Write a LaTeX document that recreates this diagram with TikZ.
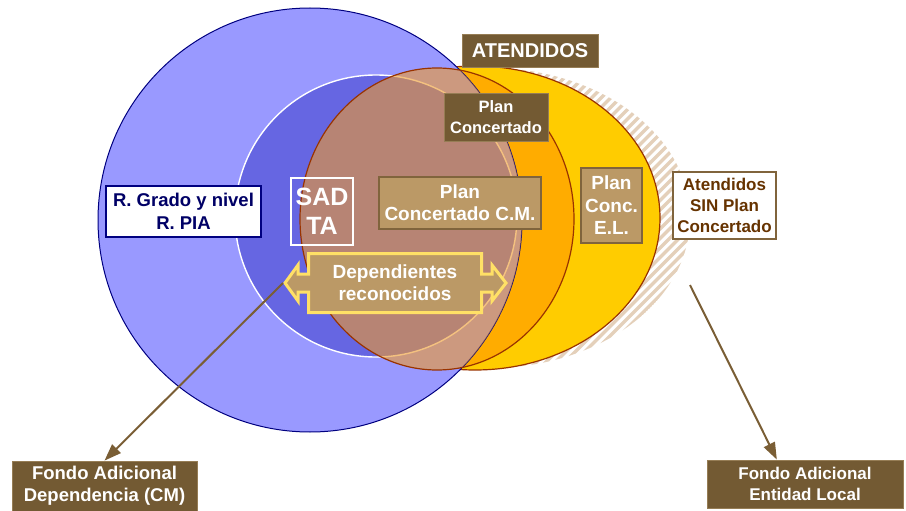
\documentclass[tikz,border=0pt]{standalone}
\usepackage{fontspec}
\setmainfont{Liberation Sans}
\usetikzlibrary{arrows.meta,calc}

\definecolor{blueA}{RGB}{153,153,255}
\definecolor{blueB}{RGB}{102,102,226}
\definecolor{navy}{RGB}{0,0,128}
\definecolor{yel}{RGB}{255,204,0}
\definecolor{orng}{RGB}{255,172,0}
\definecolor{rim}{RGB}{153,51,0}
\definecolor{tint}{RGB}{238,153,43}
\definecolor{hatchc}{RGB}{228,208,186}
\definecolor{dbrown}{RGB}{115,90,51}
\definecolor{dbrownrim}{RGB}{150,125,85}
\definecolor{tanc}{RGB}{187,153,102}
\definecolor{tanrim}{RGB}{128,100,60}
\definecolor{connc}{RGB}{122,94,53}
\definecolor{pale}{RGB}{255,224,102}
\definecolor{txtbrown}{RGB}{102,51,0}
\definecolor{txtnavy}{RGB}{0,0,102}

\begin{document}
\begin{tikzpicture}[x=1pt,y=-1pt,
  lbl/.style={align=center, inner sep=0pt, font=\bfseries},
  darkbox/.style={lbl, fill=dbrown, draw=dbrownrim, line width=0.8pt, text=white},
  tanbox/.style={lbl, fill=tanc, draw=tanrim, line width=1.3pt, text=white},
  connector/.style={draw=connc, line width=2pt, -{Triangle[length=17pt,width=12pt]}},
  outline/.style={draw=rim, line width=1.2pt}]

\fill[white] (0,0) rectangle (906,511);
\useasboundingbox (0,0) rectangle (906,511);

% striped halo behind the yellow set
\begin{scope}
  \clip (490,218) ellipse [x radius=200pt, y radius=150pt];
  \foreach \c in {300,309.5,...,1120}
    \draw[hatchc, line width=3.2pt] (\c-400,400) -- (\c+100,-100);
\end{scope}

% yellow set
\path[fill=yel, outline] (475,218) ellipse [x radius=185pt, y radius=152pt];
% orange part of the central set
\fill[orng] (437,219) ellipse [x radius=137pt, y radius=151pt];

% large blue set and inner set
\path[fill=blueA, draw=navy, line width=1pt] (310,220) circle [radius=212pt];
\path[fill=blueB, draw=white, line width=1.4pt] (376,216) circle [radius=141pt];

% translucent central set over the blue sets
\begin{scope}
  \clip (310,220) circle [radius=212pt];
  \fill[tint, fill opacity=0.6] (437,219) ellipse [x radius=137pt, y radius=151pt];
\end{scope}
\path[outline] (437,219) ellipse [x radius=137pt, y radius=151pt];

% labels inside the sets
\node[lbl, fill=white, draw=navy, line width=1.3pt, text=txtnavy,
      minimum width=155pt, minimum height=51pt,
      font=\fontsize{18.5}{22.5}\selectfont\bfseries]
  (rgrado) at (183.5,211.5) {R. Grado y nivel\\R. PIA};

\node[lbl, draw=white, line width=1.3pt, text=white,
      minimum width=62pt, minimum height=67pt,
      font=\fontsize{25}{29}\selectfont\bfseries]
  (sadta) at (322,211.5) {SAD\\TA};

\node[tanbox, minimum width=162pt, minimum height=52pt,
      font=\fontsize{19}{22}\selectfont\bfseries]
  (plancm) at (460,203) {Plan\\Concertado C.M.};

\node[darkbox, minimum width=104pt, minimum height=48pt,
      font=\fontsize{16.5}{20.5}\selectfont\bfseries]
  (planconc) at (496,117) {Plan\\Concertado};

\node[darkbox, minimum width=136pt, minimum height=33pt,
      font=\fontsize{20}{24}\selectfont\bfseries]
  (atendidos) at (530,50.5) {ATENDIDOS};

\node[tanbox, minimum width=61pt, minimum height=75pt,
      font=\fontsize{19}{22.5}\selectfont\bfseries]
  (planel) at (611.5,205.5) {Plan\\Conc.\\E.L.};

\node[lbl, fill=white, draw=tanrim, line width=1.3pt, text=txtbrown,
      minimum width=103pt, minimum height=67pt,
      font=\fontsize{17}{21}\selectfont\bfseries]
  (sinplan) at (724.5,205.5) {Atendidos\\SIN Plan\\Concertado};

% double arrow of recognised dependants
\path[fill=tanc, draw=pale, line width=3pt, line join=miter]
  (308.5,253.5) -- (481.5,253.5) -- (481.5,274) -- (492,274) -- (492,265)
  -- (506,283) -- (492,301) -- (492,292) -- (481.5,292) -- (481.5,312.5)
  -- (308.5,312.5) -- (308.5,292) -- (298,292) -- (298,301) -- (285,283)
  -- (298,265) -- (298,274) -- (308.5,274) -- cycle;
\node[lbl, text=white, font=\fontsize{19}{22}\selectfont\bfseries]
  (dep) at (395,283) {Dependientes\\reconocidos};
\coordinate (depL) at (283,283);

% funds
\node[darkbox, minimum width=185pt, minimum height=50pt,
      font=\fontsize{18.5}{22}\selectfont\bfseries]
  (fondocm) at (104.5,486) {Fondo Adicional\\Dependencia (CM)};

\node[darkbox, minimum width=196pt, minimum height=48pt,
      font=\fontsize{17}{21}\selectfont\bfseries]
  (fondoel) at (805,484) {Fondo Adicional\\Entidad Local};

\coordinate (elstart) at (690,285);
\coordinate (elend) at ($(fondoel.north west)!0.357!(fondoel.north east)$);

\draw[connector] (depL) -- (fondocm.north);
\draw[connector] (elstart) -- (elend);

\end{tikzpicture}
\end{document}
